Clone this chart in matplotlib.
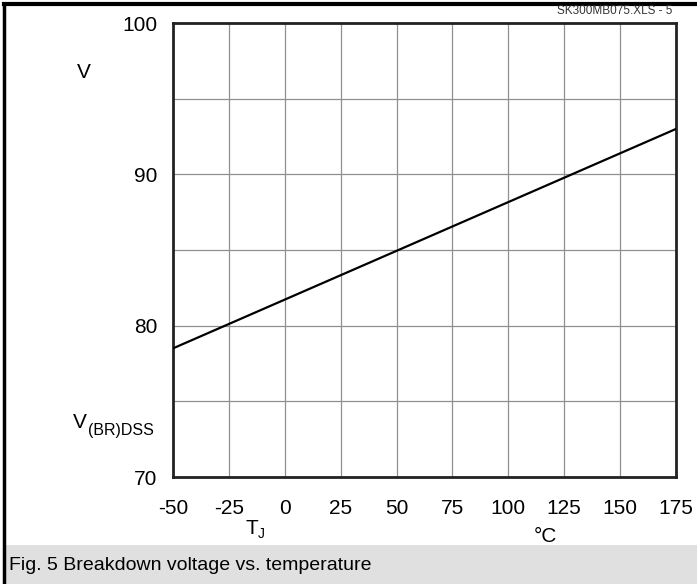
import numpy as np
import matplotlib.pyplot as plt
from matplotlib.patches import Rectangle

# data
temp_c = [-50, 175]
v_br = [78.5, 93.0]
x_ticks = [-50, -25, 0, 25, 50, 75, 100, 125, 150, 175]
y_ticks = [70, 80, 90, 100]

plt.rcParams["font.family"] = ["Liberation Sans", "DejaVu Sans"]
plt.rcParams["axes.unicode_minus"] = False

fig = plt.figure(figsize=(6.97, 5.84), dpi=100)
ax = fig.add_axes([173 / 697, 1 - 477 / 584, (676 - 173) / 697, (477 - 23) / 584])

# grid
for xv in x_ticks[1:-1]:
    ax.axvline(xv, color="#909090", lw=0.9, zorder=1)
for yv in np.arange(75, 100, 5):
    ax.axhline(yv, color="#909090", lw=0.9, zorder=1)

ax.plot(temp_c, v_br, color="black", lw=1.6, zorder=3)

ax.set_xlim(-50, 175)
ax.set_ylim(70, 100)
ax.set_xticks(x_ticks)
ax.set_yticks(y_ticks)
ax.tick_params(length=0, labelsize=15, pad=11)
ax.tick_params(axis="x", pad=16)
for s in ax.spines.values():
    s.set_linewidth(2)
    s.set_color("#222222")

# axis annotations
fig.text(77 / 697, 1 - 73 / 584, "V", fontsize=15, ha="left", va="center")
fig.text(73 / 697, 1 - 423 / 584, "V", fontsize=15, ha="left", va="center")
fig.text(88 / 697, 1 - 431 / 584, "(BR)DSS", fontsize=11.5, ha="left", va="center")
fig.text(245 / 697, 1 - 528 / 584, "T", fontsize=15, ha="left", va="center")
fig.text(258 / 697, 1 - 534 / 584, "J", fontsize=10, ha="left", va="center")
fig.text(545 / 697, 1 - 536 / 584, "°C", fontsize=15, ha="center", va="center")
fig.text(672 / 697, 1 - 11 / 584, "SK300MB075.XLS - 5", fontsize=8.5,
         ha="right", va="center", color="#333333")

# frame and caption bar
fig.patches.append(Rectangle((5 / 697, 0), 1, 39 / 584, transform=fig.transFigure,
                             facecolor="#e0e0e0", edgecolor="none", zorder=0))
fig.add_artist(plt.Line2D([4 / 697, 4 / 697], [0, 1 - 4 / 584], transform=fig.transFigure,
                          color="black", lw=2.5))
fig.add_artist(plt.Line2D([4 / 697, 1], [1 - 4 / 584, 1 - 4 / 584], transform=fig.transFigure,
                          color="black", lw=3))
fig.text(9 / 697, 1 - 565 / 584, "Fig. 5 Breakdown voltage vs. temperature",
         fontsize=14, ha="left", va="center")

fig.savefig("out.png", dpi=100)
